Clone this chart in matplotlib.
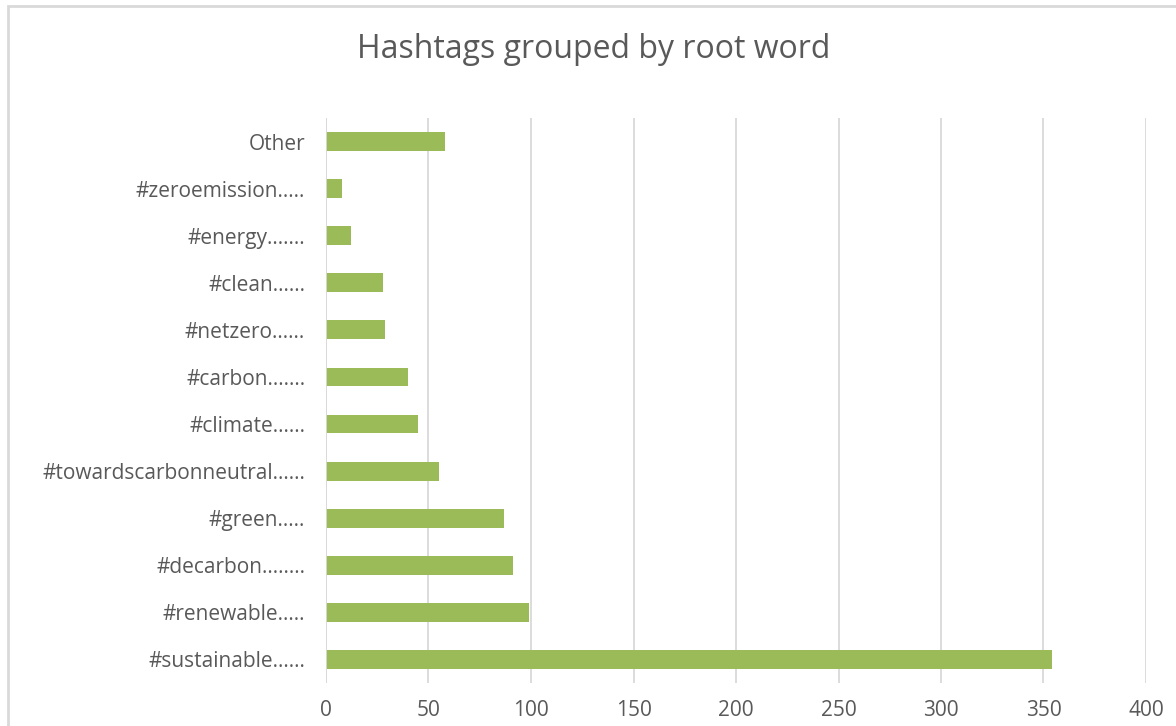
import matplotlib
matplotlib.use("Agg")
import matplotlib.pyplot as plt
from matplotlib.patches import Rectangle

categories = ["#sustainable......", "#renewable.....", "#decarbon........", "#green.....",
              "#towardscarbonneutral......", "#climate......", "#carbon.......", "#netzero......",
              "#clean......", "#energy.......", "#zeroemission.....", "Other"]
values = [354, 99, 91, 87, 55, 45, 40, 29, 28, 12, 8, 58]
x_ticks = [0, 50, 100, 150, 200, 250, 300, 350, 400]
title = "Hashtags grouped by root word"

TXT = "#595959"
GRID = "#D9D9D9"
BAR = "#9BBB59"

plt.rcParams['font.family'] = ['Open Sans', 'DejaVu Sans']

fig = plt.figure(figsize=(11.76, 7.26), dpi=100)
ax = fig.add_axes([326/1176, 43/726, 820/1176, 565/726])

y = list(range(len(categories)))
ax.barh(y, values, height=0.4, color=BAR, zorder=3)
ax.set_ylim(-0.5, len(categories) - 0.5)
ax.set_xlim(0, 400)
ax.set_xticks(x_ticks)
ax.set_xticklabels([str(t) for t in x_ticks])
ax.set_yticks(y)
ax.set_yticklabels(categories)
ax.xaxis.grid(True, color=GRID, linewidth=1.3, zorder=0)
ax.yaxis.grid(False)
for s in ax.spines.values():
    s.set_visible(False)
ax.axvline(0, color=GRID, linewidth=1.3, zorder=4)
ax.tick_params(axis='both', length=0, colors=TXT, labelsize=15)
ax.tick_params(axis='x', pad=12)
ax.tick_params(axis='y', pad=15)

fig.text(594/1176, 1 - 50/726, title, ha='center', va='center', fontsize=23, color=TXT)

fig.patches.append(Rectangle((7.5/1176, -0.1), 1.2, 1 - 6/726 + 0.1, transform=fig.transFigure,
                             fill=False, edgecolor=GRID, linewidth=2, clip_on=False))

fig.savefig("out.png", dpi=100)
